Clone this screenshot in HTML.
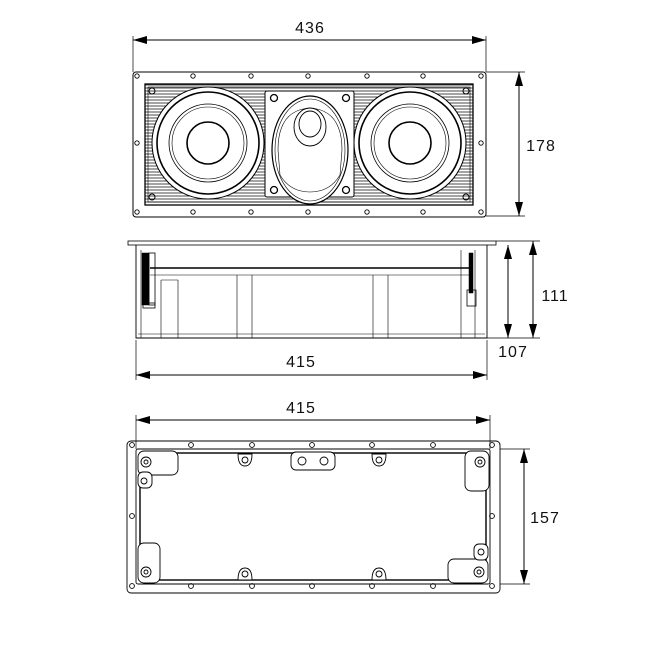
<!DOCTYPE html>
<html><head><meta charset="utf-8"><style>
html,body{margin:0;padding:0;background:#fff}
svg{display:block}
text{font-family:"Liberation Sans","DejaVu Sans",sans-serif;font-size:16px;fill:#111;letter-spacing:1px}
</style></head><body>
<svg width="650" height="650" viewBox="0 0 650 650" xmlns="http://www.w3.org/2000/svg">
<defs>
<pattern id="gr" width="4" height="3" patternUnits="userSpaceOnUse"><line x1="0" y1="1" x2="4" y2="1" stroke="#333" stroke-width="0.9"/></pattern>
<marker id="ar" viewBox="0 0 14 8" refX="14" refY="4" markerWidth="14" markerHeight="8" markerUnits="userSpaceOnUse" orient="auto-start-reverse"><path d="M0,0L14,4L0,8z" fill="#000"/></marker>
</defs>
<g fill="none" stroke="#000" stroke-width="1">
<!-- TOP VIEW dims -->
<line x1="133" y1="36" x2="133" y2="72" stroke-width="0.7"/>
<line x1="486" y1="36" x2="486" y2="72" stroke-width="0.7"/>
<line x1="133" y1="40" x2="486" y2="40" marker-start="url(#ar)" marker-end="url(#ar)"/>
<line x1="486" y1="72" x2="525" y2="72" stroke-width="0.7"/>
<line x1="486" y1="216" x2="525" y2="216" stroke-width="0.7"/>
<line x1="519" y1="72" x2="519" y2="216" marker-start="url(#ar)" marker-end="url(#ar)"/>
<!-- flange -->
<rect x="133" y="72" width="353" height="145" rx="3"/>
<rect x="145" y="84" width="328" height="121" fill="url(#gr)" stroke-width="1.3"/>
<rect x="148" y="87" width="322" height="115" stroke-width="0.6"/>
<!-- holes -->
<g stroke-width="0.9">
<circle cx="137" cy="76" r="2.2"/><circle cx="193" cy="76" r="2.2"/><circle cx="251" cy="76" r="2.2"/><circle cx="308" cy="76" r="2.2"/><circle cx="367" cy="76" r="2.2"/><circle cx="423" cy="76" r="2.2"/><circle cx="481" cy="76" r="2.2"/>
<circle cx="137" cy="212" r="2.2"/><circle cx="193" cy="212" r="2.2"/><circle cx="251" cy="212" r="2.2"/><circle cx="308" cy="212" r="2.2"/><circle cx="367" cy="212" r="2.2"/><circle cx="423" cy="212" r="2.2"/><circle cx="481" cy="212" r="2.2"/>
<circle cx="137" cy="143" r="2.2"/><circle cx="481" cy="143" r="2.2"/>
</g>
<g stroke-width="1"><circle cx="152" cy="91" r="3"/><circle cx="466" cy="91" r="3"/><circle cx="152" cy="197" r="3"/><circle cx="466" cy="197" r="3"/></g>
<!-- center panel -->
<rect x="265" y="91" width="89" height="106" rx="2" fill="#fff" stroke-width="1"/>
<g stroke-width="1.3"><circle cx="274" cy="98" r="3.5"/><circle cx="346" cy="98" r="3.5"/><circle cx="274" cy="190" r="3.5"/><circle cx="346" cy="190" r="3.5"/></g>
<ellipse cx="310" cy="150" rx="38" ry="54" fill="#fff" stroke-width="1.2"/>
<ellipse cx="310" cy="150" rx="35" ry="51" stroke-width="0.6"/>
<path d="M278,150 Q278,110 310,108 Q342,110 342,150 L340,175 Q330,192 310,192 Q290,192 280,175Z" stroke-width="0.6"/>
<ellipse cx="310" cy="127" rx="16" ry="19" stroke-width="0.9"/>
<ellipse cx="310" cy="124" rx="11" ry="13" stroke-width="0.9"/>
<!-- woofers -->
<g fill="#fff">
<circle cx="208" cy="143" r="56" stroke-width="1"/>
<circle cx="208" cy="143" r="51" stroke-width="1.6"/>
<circle cx="208" cy="143" r="39" stroke-width="0.8"/>
<circle cx="208" cy="143" r="36" stroke-width="0.6"/>
<circle cx="208" cy="143" r="21" stroke-width="1.6"/>
<circle cx="410" cy="143" r="56" stroke-width="1"/>
<circle cx="410" cy="143" r="51" stroke-width="1.6"/>
<circle cx="410" cy="143" r="39" stroke-width="0.8"/>
<circle cx="410" cy="143" r="36" stroke-width="0.6"/>
<circle cx="410" cy="143" r="21" stroke-width="1.6"/>
</g>

<!-- SIDE VIEW -->
<rect x="128" y="241" width="368" height="4" stroke-width="0.8"/>
<path d="M136,245 L136,338 L487,338 L487,245" stroke-width="0.9"/>
<line x1="138" y1="334" x2="485" y2="334" stroke-width="0.5"/>
<line x1="150" y1="268" x2="470" y2="268" stroke-width="1.6"/>
<line x1="150" y1="275" x2="470" y2="275" stroke-width="0.6"/>
<g stroke-width="0.6">
<line x1="237" y1="275" x2="237" y2="338"/><line x1="252" y1="275" x2="252" y2="338"/>
<line x1="373" y1="275" x2="373" y2="338"/><line x1="388" y1="275" x2="388" y2="338"/>
<line x1="161" y1="280" x2="161" y2="338"/><line x1="178" y1="280" x2="178" y2="338"/>
<line x1="161" y1="280" x2="178" y2="280"/>
<line x1="461" y1="250" x2="461" y2="338"/><line x1="475" y1="250" x2="475" y2="338"/>
<line x1="141" y1="250" x2="141" y2="338"/>
</g>
<rect x="142" y="253" width="7" height="52" fill="#000" stroke-width="0.5"/>
<rect x="149" y="253" width="6" height="52" stroke-width="0.8"/>
<rect x="143" y="303" width="12" height="5" stroke-width="0.8"/>
<rect x="469" y="253" width="4" height="40" fill="#000" stroke-width="0.5"/>
<rect x="467" y="290" width="9" height="16" stroke-width="0.8"/>
<!-- side dims -->
<line x1="136" y1="340" x2="136" y2="380" stroke-width="0.7"/>
<line x1="487" y1="340" x2="487" y2="380" stroke-width="0.7"/>
<line x1="136" y1="375" x2="487" y2="375" marker-start="url(#ar)" marker-end="url(#ar)"/>
<line x1="496" y1="241" x2="540" y2="241" stroke-width="0.7"/>
<line x1="487" y1="338" x2="540" y2="338" stroke-width="0.7"/>
<line x1="508" y1="245" x2="508" y2="338" marker-start="url(#ar)" marker-end="url(#ar)"/>
<line x1="533" y1="241" x2="533" y2="338" marker-start="url(#ar)" marker-end="url(#ar)"/>

<!-- BOTTOM VIEW -->
<line x1="136" y1="415" x2="136" y2="449" stroke-width="0.7"/>
<line x1="490" y1="415" x2="490" y2="449" stroke-width="0.7"/>
<line x1="136" y1="420" x2="490" y2="420" marker-start="url(#ar)" marker-end="url(#ar)"/>
<line x1="500" y1="449" x2="530" y2="449" stroke-width="0.7"/>
<line x1="500" y1="584" x2="530" y2="584" stroke-width="0.7"/>
<line x1="524" y1="449" x2="524" y2="584" marker-start="url(#ar)" marker-end="url(#ar)"/>
<rect x="127" y="441" width="373" height="152" rx="4" stroke-width="0.9"/>
<rect x="136" y="449" width="354" height="135" rx="2" stroke-width="0.9"/>
<rect x="140" y="453" width="346" height="127" stroke-width="1.4"/>
<g stroke-width="0.9">
<circle cx="132" cy="445" r="2.4"/><circle cx="191" cy="445" r="2.4"/><circle cx="252" cy="445" r="2.4"/><circle cx="312" cy="445" r="2.4"/><circle cx="372" cy="445" r="2.4"/><circle cx="433" cy="445" r="2.4"/><circle cx="492" cy="445" r="2.4"/>
<circle cx="132" cy="586" r="2.4"/><circle cx="191" cy="586" r="2.4"/><circle cx="252" cy="586" r="2.4"/><circle cx="312" cy="586" r="2.4"/><circle cx="372" cy="586" r="2.4"/><circle cx="433" cy="586" r="2.4"/><circle cx="492" cy="586" r="2.4"/>
<circle cx="132" cy="516" r="2.4"/><circle cx="492" cy="516" r="2.4"/>
</g>
<g stroke-width="0.9" fill="#fff">
<path d="M238,454 Q238,466 245,466 Q252,466 252,454Z"/><circle cx="245" cy="460" r="3"/>
<path d="M372,454 Q372,466 379,466 Q386,466 386,454Z"/><circle cx="379" cy="460" r="3"/>
<path d="M238,580 Q238,568 245,568 Q252,568 252,580Z"/><circle cx="245" cy="574" r="3"/>
<path d="M372,580 Q372,568 379,568 Q386,568 386,580Z"/><circle cx="379" cy="574" r="3"/>
<rect x="291" y="452" width="44" height="18" rx="5"/>
<circle cx="302" cy="461" r="4"/><circle cx="324" cy="461" r="4"/>
<rect x="138" y="451" width="40" height="24" rx="6"/><circle cx="146" cy="462" r="5"/><circle cx="146" cy="462" r="2"/>
<rect x="138" y="472" width="14" height="16" rx="5"/><circle cx="144" cy="481" r="3"/>
<rect x="465" y="451" width="24" height="40" rx="6"/><circle cx="480" cy="462" r="5"/><circle cx="480" cy="462" r="2"/>
<rect x="138" y="543" width="22" height="40" rx="6"/><circle cx="146" cy="572" r="5"/><circle cx="146" cy="572" r="2"/>
<rect x="448" y="559" width="40" height="24" rx="6"/><circle cx="479" cy="572" r="5"/><circle cx="479" cy="572" r="2"/>
<rect x="474" y="544" width="14" height="16" rx="5"/><circle cx="481" cy="552" r="3"/>
</g>
</g>
<text x="310" y="33" text-anchor="middle">436</text>
<text x="541" y="151" text-anchor="middle">178</text>
<text x="555" y="301" text-anchor="middle">111</text>
<text x="513" y="357" text-anchor="middle">107</text>
<text x="301" y="367" text-anchor="middle">415</text>
<text x="301" y="413" text-anchor="middle">415</text>
<text x="545" y="523" text-anchor="middle">157</text>
</svg>
</body></html>
